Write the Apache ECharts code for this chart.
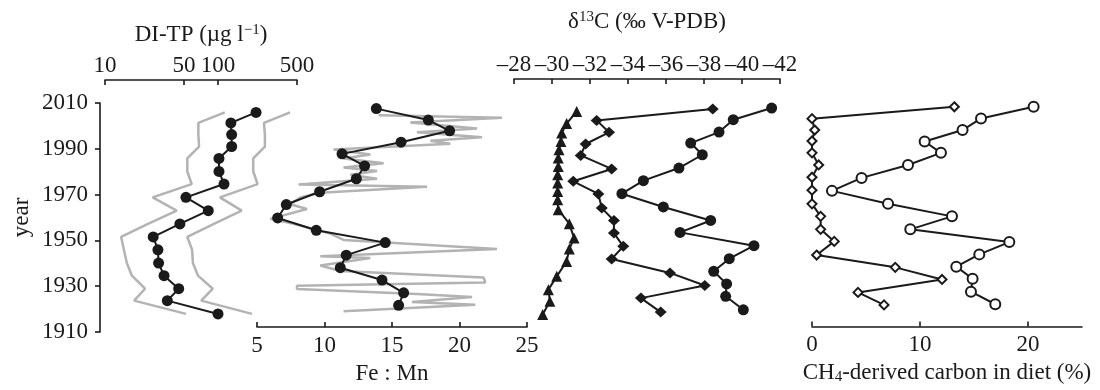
<!DOCTYPE html>
<html>
<head>
<meta charset="utf-8">
<script src="https://cdn.jsdelivr.net/npm/echarts@6/dist/echarts.min.js"></script>
<style>
html,body{margin:0;padding:0;background:#fff;}
#chart{width:1100px;height:390px;}
</style>
</head>
<body>
<div id="chart"></div>
<script>
// ---- Y axis (shared) ----
const yearTicks = [1910, 1930, 1950, 1970, 1990, 2010];

// ---- Panel 1: DI-TP (µg l-1), log scale ----
const ditpTickLabels = [10, 50, 100, 500];
const ditpYears = [2005.9, 2001.3, 1996.2, 1991.0, 1985.8, 1980.1, 1974.6, 1968.8, 1963.0, 1957.2, 1951.5, 1945.9, 1940.1, 1934.6, 1928.9, 1923.7, 1917.9];
const ditp      = [217, 130, 132, 132, 102, 102, 113, 52, 82, 46, 26.7, 29.4, 29.8, 33.3, 44.9, 35.6, 100];
const ditpLow   = [115, 67, 67, 68, 53.5, 53.5, 58.5, 26.4, 43.1, 24, 13.9, 14.7, 15.6, 17.3, 22.6, 18.1, 52.1];
const ditpHigh  = [434, 255, 260, 260, 205, 205, 224, 104, 162, 92, 53.5, 59, 60, 66.5, 90, 71, 200];

// ---- Panel 2: Fe:Mn ----
const feTickLabels = [5, 10, 15, 20, 25];
const feYears = [2007.5, 2002.4, 1997.6, 1992.5, 1987.3, 1981.9, 1976.2, 1970.4, 1964.7, 1958.7, 1953.2, 1947.7, 1942.1, 1936.5, 1931.0, 1925.3, 1919.7];
const feMn    = [13.84, 17.69, 19.27, 15.67, 11.30, 12.97, 12.36, 9.64, 7.17, 6.53, 9.39, 14.50, 11.61, 11.17, 14.26, 15.86, 15.49];
const feHiYears = [2004.5, 2003.4, 2001.3, 1998.6, 1996.9, 1994.7, 1993.2, 1991.8, 1989.3, 1987.0, 1985.2, 1983.1, 1981.2, 1979.7, 1978.0, 1976.2, 1973.6, 1972.6, 1970.0, 1967.8, 1964.8, 1962.7, 1958.3, 1956.1, 1951.7, 1948.9, 1944.8, 1941.6, 1940.8, 1937.5, 1935.0, 1932.1, 1929.9, 1928.5, 1927.0, 1924.8, 1923.4, 1921.2, 1920.0, 1917.1];
const feHi      = [14.01, 23.15, 16.36, 21.30, 16.85, 21.67, 17.84, 19.32, 10.67, 13.39, 11.41, 14.38, 11.41, 13.89, 11.91, 13.89, 8.08, 17.59, 9.69, 8.21, 7.47, 8.70, 5.99, 7.71, 10.43, 11.41, 22.78, 9.69, 13.39, 9.69, 11.17, 21.79, 21.91, 7.96, 7.96, 16.85, 20.93, 16.48, 21.17, 11.41];

// ---- Panel 3: delta13C (per mil V-PDB) ----
const d13TickLabels = [-28, -30, -32, -34, -36, -38, -40, -42];
const triYears = [2006.3, 2001.0, 1996.9, 1993.2, 1989.6, 1986.0, 1982.3, 1978.7, 1975.1, 1971.4, 1967.7, 1963.4, 1957.3, 1951.0, 1946.2, 1940.8, 1934.3, 1928.5, 1923.4, 1917.6];
const triD13  = [-31.30, -30.77, -30.51, -30.47, -30.37, -30.33, -30.33, -30.30, -30.30, -30.30, -30.30, -30.33, -30.91, -31.16, -30.91, -30.77, -30.25, -29.81, -29.89, -29.51];
const diaYears = [2007.4, 2002.4, 1997.2, 1992.1, 1987.1, 1981.2, 1975.8, 1970.3, 1964.1, 1958.7, 1953.2, 1947.4, 1941.9, 1935.8, 1930.3, 1924.8, 1918.7];
const diaD13  = [-38.46, -32.35, -33.0, -31.77, -31.51, -33.14, -31.12, -32.44, -32.62, -33.26, -33.26, -33.75, -33.14, -36.21, -38.04, -34.68, -35.72];
const cirYears = [2007.8, 2002.7, 1997.3, 1992.5, 1987.4, 1981.6, 1976.1, 1970.4, 1964.6, 1958.7, 1953.5, 1947.7, 1942.0, 1936.5, 1931.0, 1925.6, 1919.7];
const cirD13  = [-41.56, -39.54, -38.79, -37.3, -37.91, -36.68, -34.81, -33.68, -35.86, -38.35, -36.74, -40.63, -39.33, -38.51, -39.19, -39.14, -40.07];

// ---- Panel 4: CH4-derived carbon in diet (%) ----
const ch4TickLabels = [0, 10, 20];
const ch4DiaYears = [2008.3, 2003.0, 1997.9, 1993.0, 1987.7, 1982.3, 1976.8, 1971.0, 1964.9, 1959.3, 1953.5, 1948.1, 1942.0, 1936.5, 1931.1, 1925.3, 1919.7];
const ch4Dia = [13.18, 0, 0.25, 0, 0, 0.62, 0, 0, 0, 0.8, 0.8, 2.06, 0.43, 7.71, 12.04, 4.26, 6.67];
const ch4CirYears = [2008.3, 2003.1, 1997.9, 1992.8, 1987.7, 1982.3, 1976.5, 1970.7, 1964.9, 1959.3, 1953.5, 1947.8, 1942.3, 1936.8, 1931.4, 1925.6, 1920.0];
const ch4Cir = [20.52, 15.65, 13.94, 10.43, 11.94, 8.89, 4.59, 1.85, 7.04, 12.96, 9.1, 18.27, 15.49, 13.36, 14.87, 14.72, 16.97];

// ---------------------------------------------------------
const FONT = 'Liberation Serif';
const FS = 23;
const INK = '#1a1a1a';
const GREY = '#b3b3b3';
const zip = (xs, ys, f) => xs.map((x, i) => [f ? f(x) : x, ys[i]]);
const lg = v => Math.log10(v);

const GT = 103, GH = 229;
const grids = [
  {left: 105, top: GT, width: 192, height: GH},
  {left: 257, top: GT, width: 270, height: GH},
  {left: 514, top: GT, width: 266, height: GH},
  {left: 812, top: GT, width: 270, height: GH}
];

const axisLineStyle = {lineStyle: {color: INK, width: 1.6}};
const tickStyle = {show: true, inside: true, length: 5, lineStyle: {color: INK, width: 1.6}};
const lblStyle = {color: INK, fontFamily: FONT, fontSize: FS};
const nameStyle = {color: INK, fontFamily: FONT, fontSize: FS,
  rich: {
    sup: {fontFamily: FONT, fontSize: 15, verticalAlign: 'top', color: INK},
    sub: {fontFamily: FONT, fontSize: 15, verticalAlign: 'bottom', color: INK, padding: [9, 0, 0, 0]}
  }};

const yAxes = grids.map((g, i) => ({
  type: 'value', gridIndex: i, min: 1910, max: 2010,
  show: i === 0,
  offset: 5,
  name: 'year', nameLocation: 'middle', nameGap: 67, nameRotate: 90,
  nameTextStyle: {color: INK, fontFamily: FONT, fontSize: FS},
  axisLine: {show: true, ...axisLineStyle},
  axisTick: {show: true, inside: false, length: 5, lineStyle: {color: INK, width: 1.6}, customValues: yearTicks},
  axisLabel: {...lblStyle, margin: 12, customValues: yearTicks, formatter: v => String(v)},
  splitLine: {show: false}
}));

const xAxes = [
  {
    type: 'value', gridIndex: 0, position: 'top', offset: 23,
    min: 1, max: lg(500),
    name: 'DI-TP (µg l{sup|−1})', nameLocation: 'middle', nameGap: 34, nameTextStyle: nameStyle,
    axisLine: axisLineStyle,
    axisTick: {...tickStyle, customValues: ditpTickLabels.map(lg)},
    axisLabel: {...lblStyle, margin: 3, customValues: ditpTickLabels.map(lg), formatter: v => String(Math.round(Math.pow(10, v)))},
    splitLine: {show: false}
  },
  {
    type: 'value', gridIndex: 1, position: 'bottom',
    min: 5, max: 25, interval: 5,
    name: 'Fe : Mn', nameLocation: 'middle', nameGap: 33, nameTextStyle: nameStyle,
    axisLine: axisLineStyle,
    axisTick: {...tickStyle, customValues: feTickLabels},
    axisLabel: {...lblStyle, margin: 7, customValues: feTickLabels},
    splitLine: {show: false}
  },
  {
    type: 'value', gridIndex: 2, position: 'top', offset: 24, inverse: true,
    min: -42, max: -28, interval: 2,
    name: 'δ{sup|13}C (‰ V-PDB)', nameLocation: 'middle', nameGap: 46, nameTextStyle: nameStyle,
    axisLine: axisLineStyle,
    axisTick: {...tickStyle, customValues: d13TickLabels},
    axisLabel: {...lblStyle, margin: 3, customValues: d13TickLabels, formatter: v => (v < 0 ? '\u2013' + Math.abs(v) : String(v))},
    splitLine: {show: false}
  },
  {
    type: 'value', gridIndex: 3, position: 'bottom',
    min: 0, max: 25,
    name: 'CH{sub|4}-derived carbon in diet (%)', nameLocation: 'middle', nameGap: 32, nameTextStyle: nameStyle,
    axisLine: axisLineStyle,
    axisTick: {...tickStyle, customValues: ch4TickLabels},
    axisLabel: {...lblStyle, margin: 7, customValues: ch4TickLabels},
    splitLine: {show: false}
  }
];

const greyLine = (data, xi) => ({
  type: 'line', xAxisIndex: xi, yAxisIndex: xi, data, symbol: 'none', clip: false,
  lineStyle: {color: GREY, width: 2.5}, silent: true, z: 1
});
const blackLine = (data, xi, symbol, size, hollow) => ({
  type: 'line', xAxisIndex: xi, yAxisIndex: xi, data, symbol, symbolSize: size, showSymbol: true, clip: false,
  lineStyle: {color: INK, width: 2},
  itemStyle: hollow ? {color: '#fff', borderColor: INK, borderWidth: 2} : {color: INK, borderWidth: 0},
  z: 3
});

const series = [
  greyLine(zip(ditpLow, ditpYears, lg), 0),
  greyLine(zip(ditpHigh, ditpYears, lg), 0),
  blackLine(zip(ditp, ditpYears, lg), 0, 'circle', 11),
  greyLine(zip(feHi, feHiYears), 1),
  blackLine(zip(feMn, feYears), 1, 'circle', 11),
  blackLine(zip(triD13, triYears), 2, 'triangle', 11),
  blackLine(zip(diaD13, diaYears), 2, 'diamond', [12, 11]),
  blackLine(zip(cirD13, cirYears), 2, 'circle', 11),
  blackLine(zip(ch4Dia, ch4DiaYears), 3, 'diamond', [9, 9], true),
  blackLine(zip(ch4Cir, ch4CirYears), 3, 'circle', 10, true)
];

const chart = echarts.init(document.getElementById('chart'), null, {renderer: 'canvas'});
chart.setOption({
  animation: false,
  backgroundColor: '#fff',
  grid: grids,
  xAxis: xAxes,
  yAxis: yAxes,
  series
});
</script>
</body>
</html>
